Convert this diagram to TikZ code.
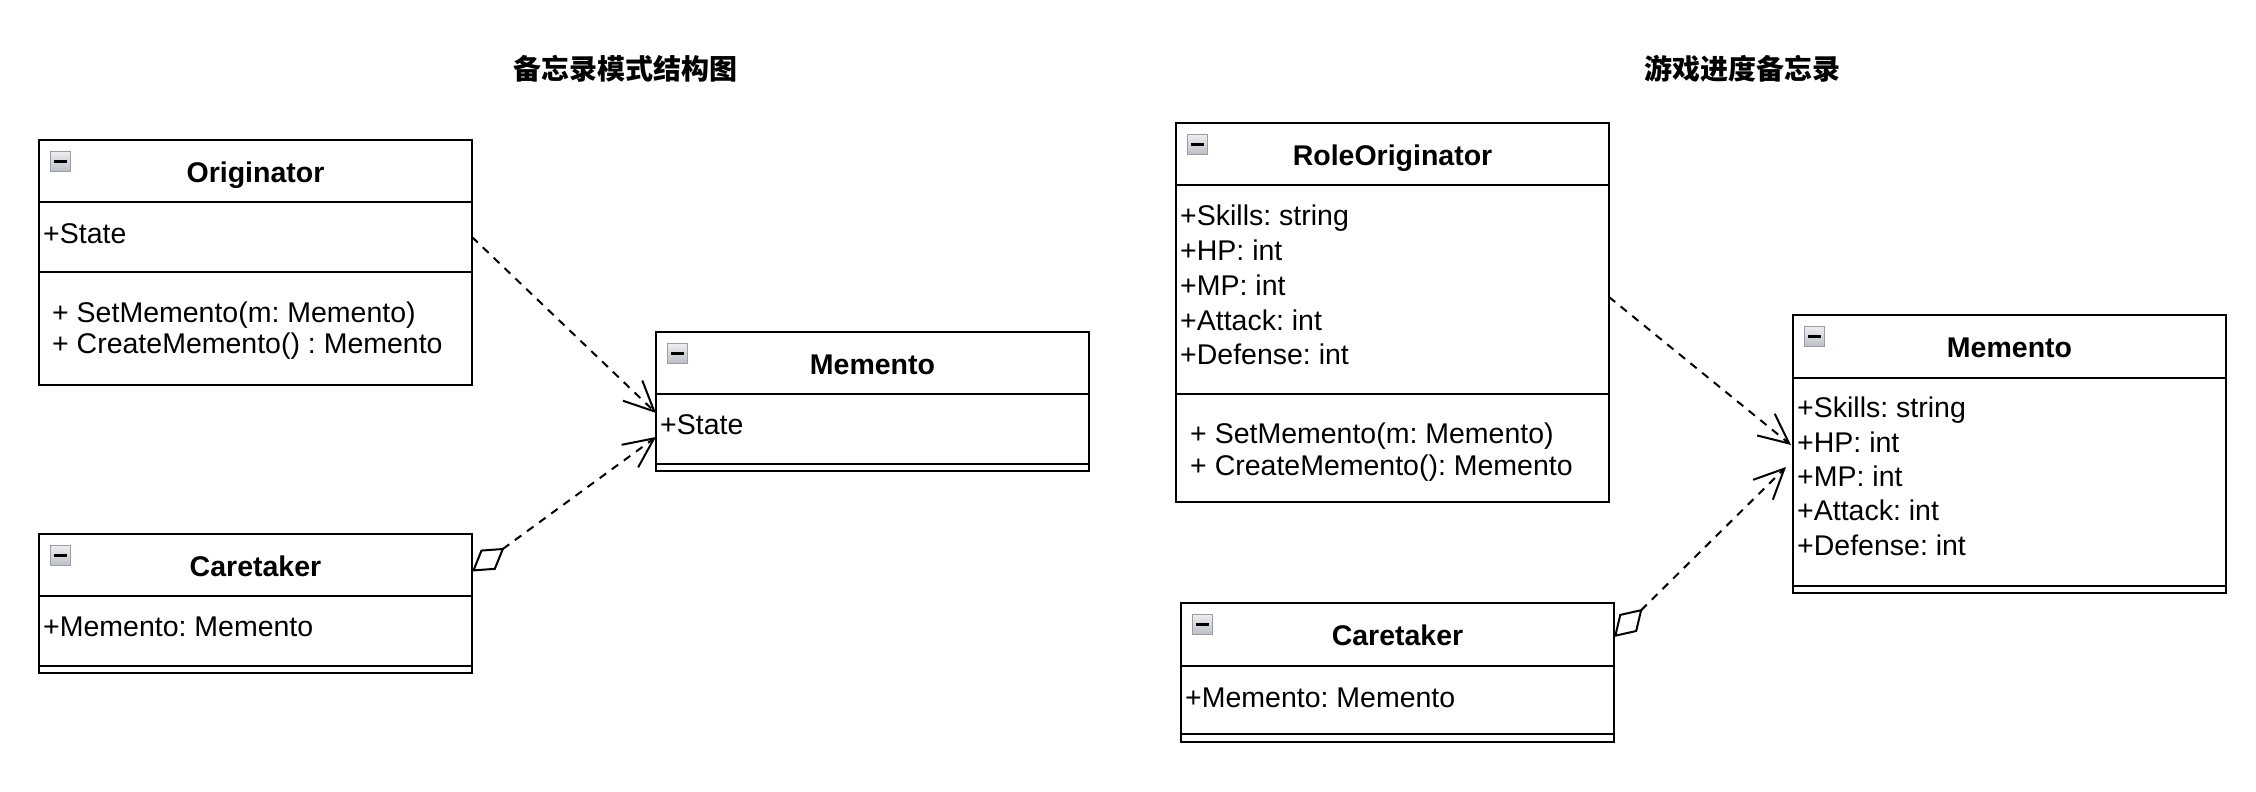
\documentclass[tikz,border=0pt]{standalone}
\usepackage{fontspec}
\setmainfont{Liberation Sans}
\newfontfamily\cjk{Noto Sans CJK SC}
\usetikzlibrary{arrows.meta}
\frenchspacing
\definecolor{iconborder}{RGB}{152,157,167}
\definecolor{icontop}{RGB}{238,239,241}
\definecolor{iconbot}{RGB}{188,192,198}
\tikzset{
  umlcls/.style={draw, line width=2pt, minimum width=433pt, inner sep=0pt, outer sep=0pt, fill=white},
  umlline/.style={line width=2pt},
  iconbox/.style={draw=iconborder, line width=1pt, top color=icontop, bottom color=iconbot, minimum width=20pt, minimum height=20pt, inner sep=0pt, outer sep=0pt},
  hdr/.style={font=\fontsize{28.5pt}{34pt}\selectfont\bfseries, inner sep=0pt, anchor=base},
  txt/.style={font=\fontsize{28.5pt}{34pt}\selectfont\frenchspacing, inner sep=0pt, anchor=base west},
  ttl/.style={font=\fontsize{28pt}{34pt}\selectfont\cjk\bfseries, inner sep=0pt, anchor=base},
  dep/.style={line width=2pt, dash pattern=on 8pt off 7pt, -{Straight Barb[length=30pt,width=28pt]}},
  agg/.style={line width=2pt, dash pattern=on 8pt off 7pt, {Diamond[open,length=40pt,width=25pt]}-{Straight Barb[length=30pt,width=28pt]}}
}
% #1 name, #2 left, #3 top, #4 height, #5 div1 offset, #6 div2 offset, #7 title
\newcommand{\umlbox}[7]{%
  \node[umlcls, minimum height=#4pt, anchor=north west] (#1) at (#2,#3) {};
  \draw[umlline] ([yshift=-#5pt]#1.north west) -- ([yshift=-#5pt]#1.north east);
  \draw[umlline] ([yshift=-#6pt]#1.north west) -- ([yshift=-#6pt]#1.north east);
  \node[iconbox] (#1-icon) at ([xshift=21.5pt,yshift=-21pt]#1.north west) {};
  \fill ([xshift=-6.5pt,yshift=-1.5pt]#1-icon.center) rectangle ([xshift=6.5pt,yshift=1.5pt]#1-icon.center);
  \node[hdr] (#1-title) at ([yshift=-42pt]#1.north) {#7};
}
\begin{document}
\begin{tikzpicture}[x=1pt,y=-1pt]
\useasboundingbox[fill=white] (0,0) rectangle (2256,792);

% titles
\node[ttl] (title1) at (625.5,80) {备忘录模式结构图};
\node[ttl] (title2) at (1742.5,80) {游戏进度备忘录};

% left diagram
\umlbox{orig}{39}{140}{245}{62}{132}{Originator}
\node[txt] (orig-a1) at (43,243) {+State};
\node[txt] (orig-m1) at (52,322) {+ SetMemento(m: Memento)};
\node[txt] (orig-m2) at (52,353) {+ CreateMemento() : Memento};

\umlbox{memL}{656}{332}{139}{62}{132}{Memento}
\node[txt] (memL-a1) at (660,434) {+State};

\umlbox{careL}{39}{534}{139}{62}{132}{Caretaker}
\node[txt] (careL-a1) at (43,636) {+Memento: Memento};

% right diagram
\umlbox{role}{1176}{123}{379}{62}{271}{RoleOriginator}
\node[txt] (role-a1) at (1180,225) {+Skills: string};
\node[txt] (role-a2) at (1180,260) {+HP: int};
\node[txt] (role-a3) at (1180,295) {+MP: int};
\node[txt] (role-a4) at (1180,330) {+Attack: int};
\node[txt] (role-a5) at (1180,364) {+Defense: int};
\node[txt] (role-m1) at (1190,443) {+ SetMemento(m: Memento)};
\node[txt] (role-m2) at (1190,475) {+ CreateMemento(): Memento};

\umlbox{careR}{1181}{603}{139}{63}{131}{Caretaker}
\node[txt] (careR-a1) at (1185,707) {+Memento: Memento};

\umlbox{memR}{1793}{315}{278}{63}{271}{Memento}
\node[txt] (memR-a1) at (1797,417) {+Skills: string};
\node[txt] (memR-a2) at (1797,452) {+HP: int};
\node[txt] (memR-a3) at (1797,486) {+MP: int};
\node[txt] (memR-a4) at (1797,520) {+Attack: int};
\node[txt] (memR-a5) at (1797,555) {+Defense: int};

% connectors
\draw[dep] ([yshift=25.5pt]orig.east) -- ([yshift=-11.5pt]memL.west);
\draw[agg] ([yshift=32pt]careL.east) -- ([yshift=-35.5pt]memL.west);
\draw[dep] ([yshift=15.5pt]role.east) -- ([xshift=-2pt,yshift=9pt]memR.west);
\draw[agg] ([yshift=35.5pt]careR.east) -- ([xshift=-7pt,yshift=-13pt]memR.west);
\end{tikzpicture}
\end{document}
